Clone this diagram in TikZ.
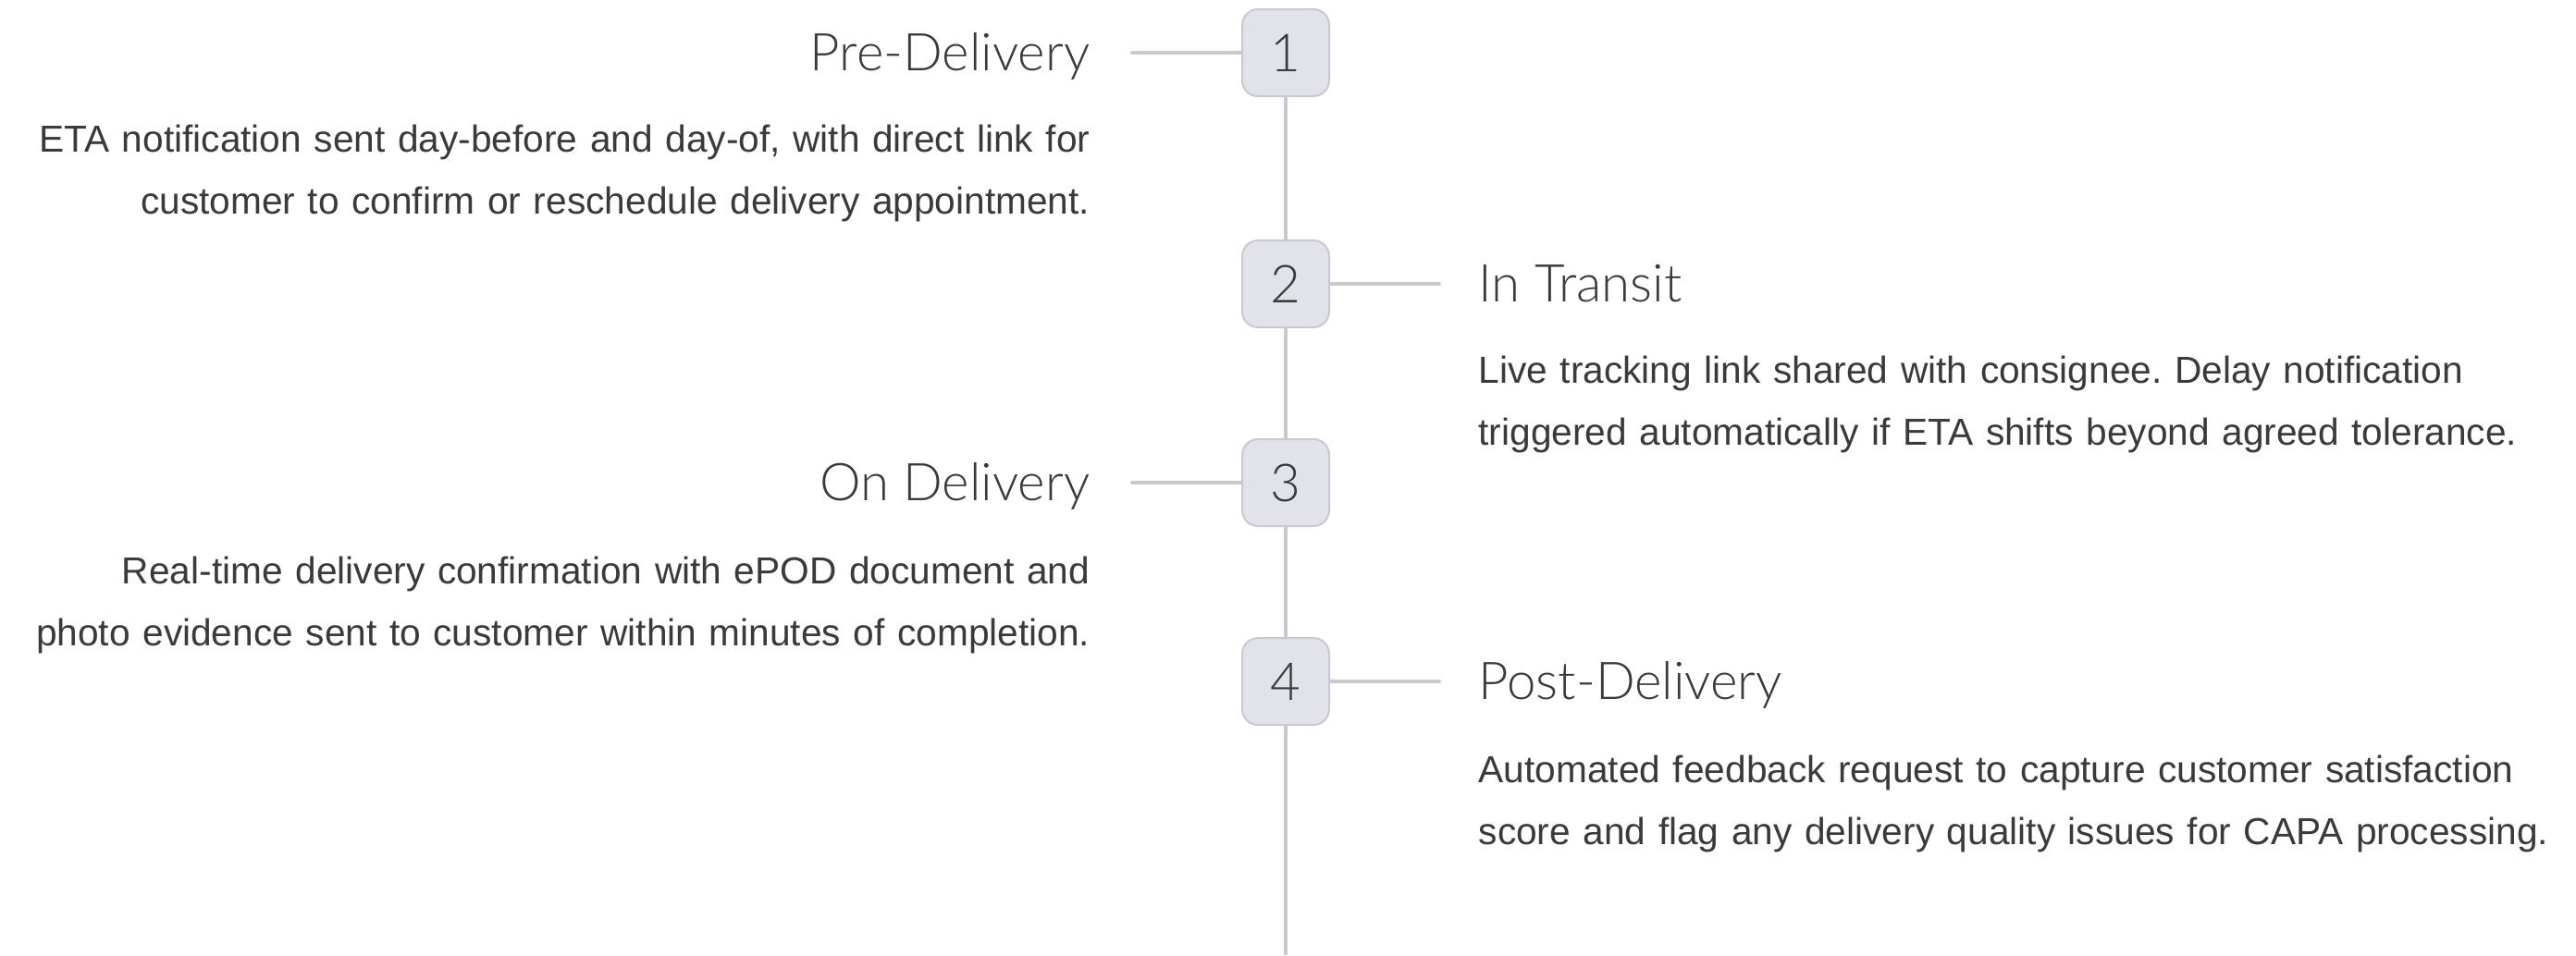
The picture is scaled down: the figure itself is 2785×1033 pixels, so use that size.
\documentclass[tikz,border=0pt]{standalone}
\usepackage{fontspec}
\setmainfont{Liberation Sans}
\newfontfamily\headfont{Lato Light}
\definecolor{ink}{HTML}{3A3A3A}
\definecolor{rail}{HTML}{C8C8D0}
\definecolor{boxfill}{HTML}{E2E2EA}
\definecolor{boxedge}{HTML}{C9C9D3}
\frenchspacing
\begin{document}
\begin{tikzpicture}[x=0.3pt,y=-0.3pt,
  stepnum/.style={draw=boxedge, fill=boxfill, line width=0.6pt, rounded corners=5.1pt,
    minimum width=28.2pt, minimum height=28.2pt, inner sep=0pt,
    font=\headfont\fontsize{17}{20}\selectfont, text=ink},
  track/.style={draw=rail, line width=1.2pt, line cap=round},
  headL/.style={anchor=base east, inner sep=0pt, font=\headfont\fontsize{16.9}{20}\selectfont, text=ink},
  headR/.style={headL, anchor=base west},
  bodyL/.style={anchor=base east, inner sep=0pt, text width=400pt, align=right,
    font=\fontsize{12.2}{20.1}\selectfont, text=ink},
  bodyR/.style={bodyL, anchor=base west, align=left}]
\useasboundingbox (0,0) rectangle (2785,1033);

% step boxes on the central rail
\node[stepnum] (s1) at (1390,57) {1};
\node[stepnum] (s2) at (1390,307) {2};
\node[stepnum] (s3) at (1390,522) {3};
\node[stepnum] (s4) at (1390,737) {4};
\coordinate (railend) at (1390,1033);

% branch ends
\coordinate (b1) at (1224,57);
\coordinate (b2) at (1556,307);
\coordinate (b3) at (1224,522);
\coordinate (b4) at (1556,737);

% rail and branches
\draw[track] (s1.south) -- (s2.north);
\draw[track] (s2.south) -- (s3.north);
\draw[track] (s3.south) -- (s4.north);
\draw[track, line cap=butt] (s4.south) -- (railend);
\draw[track] (b1) -- (s1.west);
\draw[track] (s2.east) -- (b2);
\draw[track] (b3) -- (s3.west);
\draw[track] (s4.east) -- (b4);

% headings
\node[headL] (h1) at (1179,76) {Pre-Delivery};
\node[headR] (h2) at (1598,326) {In Transit};
\node[headL] (h3) at (1179,541) {On Delivery};
\node[headR] (h4) at (1598,756) {Post-Delivery};

% descriptions
\node[bodyL] (d1) at (1179,164) {ETA notification sent day-before and day-of, with direct link for\\customer to confirm or reschedule delivery appointment.};
\node[bodyR] (d2) at (1598,414) {Live tracking link shared with consignee. Delay notification\\triggered automatically if ETA shifts beyond agreed tolerance.};
\node[bodyL] (d3) at (1179,631) {Real-time delivery confirmation with ePOD document and\\photo evidence sent to customer within minutes of completion.};
\node[bodyR] (d4) at (1598,846) {Automated feedback request to capture customer satisfaction\\score and flag any delivery quality issues for CAPA processing.};
\end{tikzpicture}
\end{document}
